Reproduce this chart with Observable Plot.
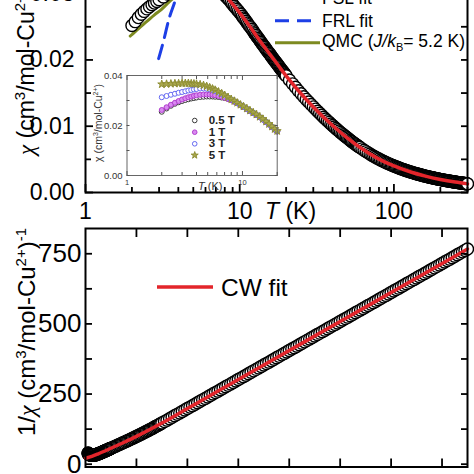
<!DOCTYPE html>
<html><head><meta charset="utf-8">
<script src="https://cdn.jsdelivr.net/npm/d3@7"></script>
<script src="https://cdn.jsdelivr.net/npm/@observablehq/plot@0.6"></script>
<style>
html,body{margin:0;padding:0;background:#fff;}
#wrap{position:relative;width:474px;height:474px;overflow:hidden;background:#fff;font-family:"Liberation Sans",Arial,sans-serif;}
</style></head><body><div id="wrap"></div>
<script>
// ---------- main data (same sample shown as chi and 1/chi) ----------
const mainT = [
2.0,2.1,2.2,2.3,2.4,2.5,2.6,2.7,2.8,2.9,3.0,3.2,3.4,3.6,3.8,4.0,4.3,4.6,4.9,5.2,5.5,5.8,6.1,6.4,6.7,7.0,7.3,7.6,7.8,
8.0,8.2,8.4,8.6,8.8,9.0,9.2,9.4,9.6,9.8,10.0,10.2,10.4,10.6,10.8,11.0,11.2,11.4,11.6,11.8,12.0,12.2,12.4,12.6,12.8,13.0,13.2,13.4,13.6,13.8,14.0,14.2,14.4,14.6,14.8,15.0,15.2,15.4,15.6,15.8,16.0,16.2,16.4,16.6,16.8,17.0,17.2,17.4,17.6,17.8,18.0,18.2,18.4,18.6,18.8,19.0,19.2,19.4,19.6,19.8,20.0,
21,22,23,24,25,26,27,28,29,30,31,32,33,34,35,36,37,38,39,40,
41,42,43,44,45,46,47,48,49,50,51,52,53,54,55,56,57,58,59,60,
62,64,66,68,70,72,74,76,78,80,82,84,86,88,90,92,94,96,98,100,
102,104,106,108,110,112,114,116,118,120,122,124,126,128,130,132,134,136,138,140,
142,144,146,148,150,152,154,156,158,160,162,164,166,168,170,172,174,176,178,180,
182,184,186,188,190,192,194,196,198,200,202,204,206,208,210,212,214,216,218,220,
222,224,226,228,230,232,234,236,238,240,242,244,246,248,250,252,254,256,258,260,
262,264,266,268,270,272,274,276,278,280,282,284,286,288,290,292,294,296,298,300];
// 1/chi in mol-Cu/cm^3
const mainInvChi = [
39.7,38.8,37.9,37.2,36.6,36.1,35.7,35.3,35.0,34.7,34.4,33.9,33.4,33.1,32.8,32.6,32.3,32.1,31.9,31.8,31.8,31.9,32.1,32.2,32.4,32.6,32.8,33.1,33.3,
33.6,33.9,34.2,34.5,34.9,35.2,35.6,35.9,36.2,36.5,36.9,37.2,37.6,38.0,38.3,38.7,39.1,39.5,39.9,40.2,40.6,41.0,41.5,41.8,42.2,42.6,43.0,43.4,43.8,44.2,44.6,45.0,45.4,45.7,46.2,46.6,47.0,47.4,47.7,48.1,48.6,49.0,49.4,49.8,50.2,50.6,51.0,51.4,51.8,52.2,52.6,53.1,53.5,53.9,54.3,54.7,55.1,55.5,56.0,56.4,56.8,
58.9,61.0,63.0,65.1,67.1,69.2,71.2,73.3,75.3,77.4,79.5,81.6,83.7,85.8,88.0,90.2,92.3,94.5,96.7,98.9,
101.2,103.5,105.7,108.0,110.3,112.6,114.9,117.2,119.5,121.8,124.2,126.7,129.2,131.7,134.2,136.7,139.1,141.6,144.1,146.6,
151.8,156.9,162.1,167.3,172.5,177.6,182.8,188.0,193.1,198.3,203.5,208.6,213.8,219.0,224.2,229.3,234.5,239.7,244.8,250.0,
255.2,260.3,265.5,270.7,275.9,281.0,286.2,291.4,296.5,301.7,306.9,312.0,317.2,322.4,327.6,332.7,337.9,343.1,348.2,353.4,
358.6,363.7,368.9,374.1,379.3,384.4,389.6,394.8,399.9,405.1,410.3,415.4,420.6,425.8,431.0,436.1,441.3,446.5,451.6,456.8,
462.0,467.1,472.3,477.5,482.7,487.8,493.0,498.2,503.3,508.5,513.7,518.8,524.0,529.2,534.4,539.5,544.7,549.9,555.0,560.2,
565.4,570.5,575.7,580.9,586.1,591.2,596.4,601.6,606.7,611.9,617.1,622.2,627.4,632.6,637.8,642.9,648.1,653.3,658.4,663.6,
668.8,673.9,679.1,684.3,689.5,694.6,699.8,705.0,710.1,715.3,720.5,725.6,730.8,736.0,741.2,746.3,751.5,756.7,761.8,767.0];

// fits (top panel)
const fslT   = [7, 8, 9, 10, 12, 14, 16, 18, 20, 25, 30, 40, 50, 60, 80, 100, 130, 160, 200, 250, 300];
const fslChi = [0.0307,0.0298,0.0284,0.0271,0.0246,0.0224,0.0206,0.0190,0.0176,0.0149,0.0129,0.01011,0.00821,0.00682,0.00504,0.00400,0.00305,0.00247,0.00197,0.00157,0.00130];
const frlT   = [2.98, 3.21, 3.46, 3.82, 4.2];
const frlChi = [0.0202, 0.0229, 0.0260, 0.0290, 0.0325];
const qmcT   = [1.95, 2.2, 2.5, 2.8, 3.1, 3.5, 4.0, 4.5, 5.0, 5.5, 6.0, 7.0, 8.0, 9.0, 10.0, 12.0, 15.0, 20.0];
const qmcChi = [0.0236,0.0247,0.0258,0.0268,0.0276,0.0288,0.0299,0.0306,0.0310,0.0312,0.0312,0.0308,0.0298,0.0286,0.0274,0.0248,0.0216,0.0177];
// Curie-Weiss fit (bottom panel)
const cwT   = [0, 5, 10, 20, 30, 40, 60, 80, 100, 150, 200, 250, 300];
const cwInv = [21, 28, 36.9, 56.8, 77.4, 98.9, 146.6, 198.3, 250, 379.3, 508.5, 637.8, 767];

// inset: field dependence
const insetT = [2.0,2.2,2.4,2.6,2.8,3.0,3.2,3.4,3.6,3.8,4.0,4.3,4.6,4.9,5.2,5.5,5.8,6.2,6.6,7.0,7.5,8.0,8.5,9.0,9.6,10.2,10.9,11.6,12.4,13.2,14.1,15.0,16.0,17.0,18.0,19.0,20.0];
const chi05T = [.0255,.0268,.0279,.0287,.0293,.0298,.0302,.0305,.0308,.0310,.0312,.0314,.0315,.0316,.0316,.0316,.0315,.0314,.0312,.0310,.0306,.0302,.0296,.0289,.0281,.0274,.0266,.0258,.0250,.0242,.0233,.0224,.0214,.0204,.0194,.0184,.0176];
const chi1T  = [.0262,.0273,.0283,.0291,.0298,.0304,.0309,.0313,.0316,.0319,.0321,.0323,.0324,.0324,.0324,.0323,.0321,.0318,.0315,.0311,.0306,.0301,.0295,.0289,.0281,.0274,.0266,.0258,.0250,.0242,.0233,.0224,.0214,.0204,.0194,.0184,.0176];
const chi3T  = [.0313,.0318,.0323,.0327,.0331,.0334,.0337,.0340,.0342,.0344,.0346,.0348,.0348,.0347,.0345,.0342,.0338,.0332,.0326,.0320,.0312,.0304,.0297,.0290,.0282,.0275,.0267,.0259,.0251,.0243,.0234,.0225,.0215,.0205,.0195,.0185,.0177];
const chi5T  = [.0365,.0366,.0367,.0368,.0368,.0369,.0369,.0369,.0368,.0367,.0366,.0364,.0361,.0357,.0352,.0347,.0342,.0335,.0328,.0321,.0313,.0305,.0298,.0291,.0283,.0276,.0268,.0260,.0252,.0244,.0235,.0226,.0216,.0206,.0196,.0186,.0178];
const insetLabels = ["0.5 T", "1 T", "3 T", "5 T"];

// tick values
const topYMajor = [0, 0.01, 0.02, 0.03];
const topYMinor = [0.005, 0.015, 0.025, 0.035];
const logMajor = [1, 10, 100];
const logMinor = [2,3,4,5,6,7,8,9,20,30,40,50,60,70,80,90,200,300];
const botYMajor = [0, 250, 500, 750];
const botYMinor = [125, 375, 625];
const botX = [40, 80, 120, 160, 200, 240, 280];
const insYTicks = [0, 0.01, 0.02, 0.03, 0.04];
const insXMajor = [1, 10];
const insXMinor = [2,3,4,5,6,7,8,9,20];

// ---------- build ----------
if (mainT.length !== mainInvChi.length) throw new Error("len " + mainT.length + " vs " + mainInvChi.length);
const zip = (a, b, k) => a.map((T, i) => ({T, [k]: b[i]}));
const main = zip(mainT, mainInvChi, "inv");
const fsl = zip(fslT, fslChi, "chi");
const frl = zip(frlT, frlChi, "chi");
const qmc = zip(qmcT, qmcChi, "chi");
const cw = zip(cwT, cwInv, "inv");
const fields = [chi05T, chi1T, chi3T, chi5T].map(arr => zip(insetT, arr, "chi"));

const FONT = "Liberation Sans, Arial, sans-serif";
const RED = "#e3252b", BLUE = "#1d3fe6", OLIVE = "#7d8a20";
const blank = () => "";
const fmt2 = d3.format(".2f");
const wrap = document.getElementById("wrap");
function place(svg, left, top) {
  svg.style.position = "absolute"; svg.style.left = left + "px"; svg.style.top = top + "px";
  svg.style.overflow = "visible"; svg.style.background = "transparent";
  wrap.appendChild(svg);
}
const ax = (f, o) => f({label: null, stroke: "black", strokeWidth: 1.8, ...o});

// top panel: chi vs T (log)
const topPlot = Plot.plot({
  width: 474, height: 290, marginLeft: 85, marginRight: 7, marginTop: 10, marginBottom: 48,
  style: {fontFamily: FONT, background: "transparent", overflow: "visible", color: "black"},
  x: {type: "log", domain: [1, 300]},
  y: {domain: [0, 0.035]},
  marks: [
    Plot.line(qmc, {x: "T", y: "chi", stroke: OLIVE, strokeWidth: 3, curve: "monotone-x"}),
    Plot.dot(main, {x: "T", y: d => 1 / d.inv, r: 6, stroke: "black", strokeWidth: 1.4, fill: "white"}),
    Plot.line(fsl, {x: "T", y: "chi", stroke: RED, strokeWidth: 3.5, curve: "monotone-x"}),
    Plot.line(frl, {x: "T", y: "chi", stroke: BLUE, strokeWidth: 3, strokeDasharray: "14,8", curve: "monotone-x"}),
    Plot.frame({stroke: "black", strokeWidth: 2}),
    ax(Plot.axisY, {anchor: "left", ticks: topYMajor, tickSize: -8, tickPadding: 19, tickFormat: fmt2, fontSize: 23}),
    ax(Plot.axisY, {anchor: "left", ticks: topYMinor, tickSize: -6, tickFormat: blank}),
    ax(Plot.axisY, {anchor: "right", ticks: topYMajor.concat(topYMinor), tickSize: -7, tickFormat: blank}),
    ax(Plot.axisX, {anchor: "bottom", ticks: logMajor, tickSize: -8, tickPadding: 18, tickFormat: d => String(d), fontSize: 23}),
    ax(Plot.axisX, {anchor: "bottom", ticks: logMinor, tickSize: -5, tickFormat: blank}),
    ax(Plot.axisX, {anchor: "top", ticks: logMajor, tickSize: -8, tickFormat: blank}),
    ax(Plot.axisX, {anchor: "top", ticks: logMinor, tickSize: -5, tickFormat: blank})
  ]
});
place(topPlot, 0, -50);

// bottom panel: 1/chi vs T (linear)
const botPlot = Plot.plot({
  width: 474, height: 264, marginLeft: 85, marginRight: 7, marginTop: 18, marginBottom: 7.5,
  style: {fontFamily: FONT, background: "transparent", overflow: "visible", color: "black"},
  x: {domain: [0, 300]},
  y: {domain: [-10, 840]},
  marks: [
    Plot.dot(main, {x: "T", y: "inv", r: 6, stroke: "black", strokeWidth: 1.4, fill: "white"}),
    Plot.line(cw, {x: "T", y: "inv", stroke: RED, strokeWidth: 3.5, curve: "monotone-x"}),
    Plot.frame({stroke: "black", strokeWidth: 2}),
    ax(Plot.axisY, {anchor: "left", ticks: botYMajor, tickSize: -7, tickPadding: 11, tickFormat: d => String(d), fontSize: 26}),
    ax(Plot.axisY, {anchor: "left", ticks: botYMinor, tickSize: -7, tickFormat: blank}),
    ax(Plot.axisY, {anchor: "right", ticks: botYMajor.concat(botYMinor), tickSize: -7, tickFormat: blank}),
    ax(Plot.axisX, {anchor: "bottom", ticks: botX, tickSize: -8, tickFormat: blank}),
    ax(Plot.axisX, {anchor: "top", ticks: botX, tickSize: -8, tickFormat: blank})
  ]
});
place(botPlot, 0, 210);

// inset
const legY = [0.022, 0.01732, 0.01268, 0.0081];
const styles = [
  {stroke: "#3a3a3a", fill: "white", symbol: "circle", r: 2.5},
  {stroke: "#b23fd0", fill: "#d98af0", symbol: "circle", r: 2.5},
  {stroke: "#6468f2", fill: "white", symbol: "circle", r: 2.5},
  {stroke: "#8f8f35", fill: "#aaa84c", symbol: "star", r: 2.5}
];
const insetMarks = [Plot.frame({fill: "white", stroke: "none"})];
fields.forEach((f, i) => insetMarks.push(Plot.dot(f, {x: "T", y: "chi", strokeWidth: 1, ...styles[i]})));
styles.forEach((s, i) => {
  insetMarks.push(Plot.dot([insetLabels[i]], {x: () => 3.86, y: () => legY[i], strokeWidth: 1, ...s, r: s.symbol === "star" ? 2.2 : 2.3}));
  insetMarks.push(Plot.text([insetLabels[i]], {x: () => 5.1, y: () => legY[i], text: d => d, textAnchor: "start", fontWeight: "bold", fontSize: 11.5, fill: "#222"}));
});
const iax = (f, o) => f({label: null, stroke: "#555", strokeWidth: 1, fill: "#333", ...o});
insetMarks.push(
  Plot.frame({stroke: "#666", strokeWidth: 1}),
  iax(Plot.axisY, {anchor: "left", ticks: insYTicks, tickSize: -3, tickPadding: 7.5, fontSize: 9.5, tickFormat: d => (Math.round(d * 100) % 2 === 0 ? fmt2(d) : "")}),
  iax(Plot.axisY, {anchor: "right", ticks: insYTicks, tickSize: -3, tickFormat: blank}),
  iax(Plot.axisX, {anchor: "bottom", ticks: insXMajor, tickSize: -4, tickPadding: 8, fontSize: 7.5, tickFormat: d => String(d)}),
  iax(Plot.axisX, {anchor: "bottom", ticks: insXMinor, tickSize: -3, tickFormat: blank}),
  iax(Plot.axisX, {anchor: "top", ticks: insXMajor, tickSize: -4, tickFormat: blank}),
  iax(Plot.axisX, {anchor: "top", ticks: insXMinor, tickSize: -3, tickFormat: blank})
);
const insetPlot = Plot.plot({
  width: 195, height: 130, marginLeft: 36.5, marginRight: 8.3, marginTop: 10, marginBottom: 20,
  style: {fontFamily: FONT, background: "transparent", overflow: "visible", color: "#333"},
  x: {type: "log", domain: [1, 20]},
  y: {domain: [0, 0.04]},
  marks: insetMarks
});
place(insetPlot, 90, 65);

// ---------- overlay: axis titles and legends ----------
const ov = d3.select(wrap).append("svg").attr("width", 474).attr("height", 474)
  .style("position", "absolute").style("left", "0px").style("top", "0px").style("overflow", "hidden")
  .style("font-family", FONT);

function richLabel(g, parts, size) {
  const t = g.append("text").attr("font-size", size).attr("fill", "black");
  parts.forEach(p => {
    const s = t.append("tspan").text(p.t);
    if (p.it) s.attr("font-style", "italic");
    if (p.serif) s.attr("font-family", "Liberation Serif, DejaVu Serif, serif");
    if (p.fs) s.attr("font-size", p.fs);
    if (p.dy) s.attr("dy", p.dy);
  });
  return t;
}
const sup = size => Math.round(size * 0.38);
// top y title
richLabel(ov.append("g").attr("transform", "translate(34,155) rotate(-90)"), [
  {t: "χ", it: true, serif: true}, {t: " (cm"}, {t: "3", fs: 15, dy: -sup(23)}, {t: "/mol-Cu", dy: sup(23)},
  {t: "2+", fs: 15, dy: -sup(23)}, {t: ")", dy: sup(23)}], 23);
// bottom y title
richLabel(ov.append("g").attr("transform", "translate(35,436) rotate(-90)"), [
  {t: "1/"}, {t: "χ", it: true, serif: true}, {t: " (cm"}, {t: "3", fs: 15, dy: -sup(24)}, {t: "/mol-Cu", dy: sup(24)},
  {t: "2+", fs: 15, dy: -sup(24)}, {t: ")", dy: sup(24)}, {t: "-1", fs: 15, dy: -sup(24)}], 24);
// top x title
richLabel(ov.append("g").attr("transform", "translate(265,219)"), [{t: "T", it: true}, {t: " (K)"}], 23);

// top legend
const legTop = [
  {y: -2, ty: 4, x2: 319, color: RED, dash: null, parts: [{t: "FSL fit"}]},
  {y: 20.7, ty: 27.3, x2: 312, color: BLUE, dash: "14,8", parts: [{t: "FRL fit"}]},
  {y: 42.7, ty: 46.7, x2: 320, color: OLIVE, dash: null, parts: [{t: "QMC ("}, {t: "J/k", it: true}, {t: "B", fs: 11, dy: 4}, {t: "= 5.2 K)", dy: -4}]}
];
legTop.forEach(l => {
  ov.append("line").attr("x1", 275).attr("x2", l.x2).attr("y1", l.y).attr("y2", l.y)
    .attr("stroke", l.color).attr("stroke-width", 3).attr("stroke-dasharray", l.dash);
  richLabel(ov.append("g").attr("transform", `translate(322,${l.ty})`), l.parts, 17.5);
});
// bottom legend
ov.append("line").attr("x1", 157).attr("x2", 213).attr("y1", 287).attr("y2", 287).attr("stroke", RED).attr("stroke-width", 3.5);
richLabel(ov.append("g").attr("transform", "translate(221,296)"), [{t: "CW fit"}], 24.5);

// inset titles
richLabel(ov.append("g").attr("transform", "translate(102,123) rotate(-90)"), [
  {t: "χ"}, {t: " (cm"}, {t: "3", fs: 7, dy: -4}, {t: "/mol-Cu", dy: 4},
  {t: "2+", fs: 7, dy: -4}, {t: ")", dy: 4}], 10.5).attr("text-anchor", "middle").attr("fill", "#333");
richLabel(ov.append("g").attr("transform", "translate(198,190)"), [{t: "T", it: true}, {t: " (K)"}], 11).attr("fill", "#333");
</script></body></html>
